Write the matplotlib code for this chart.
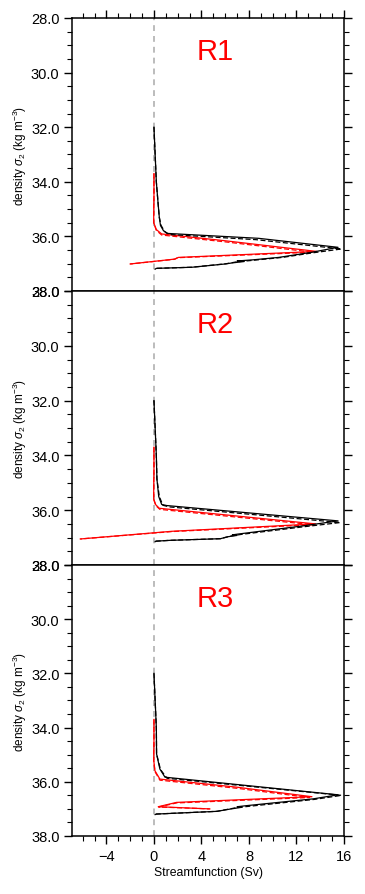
import numpy as np
import matplotlib
matplotlib.use("Agg")
import matplotlib.pyplot as plt
from matplotlib.ticker import MultipleLocator, FormatStrFormatter

plt.rcParams['font.family'] = ['Liberation Sans', 'DejaVu Sans']
plt.rcParams['mathtext.fontset'] = 'custom'
plt.rcParams['mathtext.rm'] = 'Liberation Sans'
plt.rcParams['mathtext.it'] = 'Liberation Sans:italic'

# ---------------- data (density sigma2, streamfunction Sv) ----------------
panel_names = ["R1", "R2", "R3"]

# R1
r1_black_dens = [32.0, 33.0, 34.0, 34.8, 35.3, 35.6, 35.79, 35.89, 36.07, 36.40, 36.58,
                 36.77, 36.86, 36.90, 36.92, 36.97, 37.01, 37.13, 37.17, 37.20]
r1_black_sv = [0.0, 0.1, 0.2, 0.35, 0.45, 0.55, 0.8, 1.1, 8.8, 15.5, 13.3,
               10.5, 8.3, 7.0, 7.6, 6.6, 6.0, 3.2, 0.2, 0.1]
r1_blackd_dens = [32.0, 33.0, 34.0, 34.8, 35.3, 35.6, 35.82, 35.93, 36.12, 36.46, 36.6,
                  36.77, 36.89, 36.93, 37.0, 37.13, 37.17, 37.20]
r1_blackd_sv = [0.0, 0.1, 0.2, 0.35, 0.45, 0.6, 0.9, 1.3, 8.6, 15.8, 13.4,
                10.8, 8.0, 7.0, 6.1, 3.2, 0.2, 0.1]
r1_red_dens = [33.7, 34.5, 35.2, 35.5, 35.75, 35.91, 36.16, 36.55, 36.77, 36.83, 37.01]
r1_red_sv = [0.0, 0.0, -0.02, -0.02, 0.2, 0.65, 6.0, 13.7, 2.05, 1.77, -2.0]
r1_redd_dens = [33.7, 34.5, 35.2, 35.5, 35.78, 35.95, 36.2, 36.58, 36.78, 36.84, 37.01]
r1_redd_sv = [0.0, 0.0, -0.02, -0.02, 0.2, 0.65, 6.0, 13.4, 2.0, 1.7, -2.0]

# R2
r2_black_dens = [32.0, 33.0, 34.0, 34.86, 35.5, 35.79, 35.83, 36.39, 36.57, 36.87,
                 36.90, 36.92, 36.97, 37.04, 37.10, 37.13, 37.15]
r2_black_sv = [0.0, 0.1, 0.2, 0.25, 0.4, 0.65, 1.07, 15.5, 12.6, 7.1,
               6.6, 7.0, 6.2, 5.6, 1.35, 0.17, 0.1]
r2_blackd_dens = [32.0, 33.0, 34.0, 34.86, 35.5, 35.82, 35.88, 36.45, 36.6, 36.88,
                  36.94, 37.04, 37.10, 37.13, 37.15]
r2_blackd_sv = [0.0, 0.1, 0.2, 0.25, 0.45, 0.75, 1.3, 15.7, 12.7, 7.4,
                6.5, 5.6, 1.35, 0.17, 0.1]
r2_red_dens = [33.7, 34.5, 35.2, 35.6, 35.8, 35.93, 36.2, 36.5, 36.77, 37.05]
r2_red_sv = [0.0, 0.0, -0.02, -0.02, 0.15, 0.45, 6.7, 13.6, 1.5, -6.2]
r2_redd_dens = [33.7, 34.5, 35.2, 35.6, 35.83, 35.97, 36.24, 36.53, 36.78, 37.05]
r2_redd_sv = [0.0, 0.0, -0.02, -0.02, 0.15, 0.5, 6.7, 13.4, 1.5, -6.2]

# R3
r3_black_dens = [32.0, 33.0, 34.0, 34.97, 35.53, 35.83, 36.48, 36.63, 36.88, 36.92,
                 36.94, 37.0, 37.09, 37.19, 37.21]
r3_black_sv = [0.0, 0.1, 0.2, 0.22, 0.5, 0.93, 15.5, 13.4, 7.8, 7.0,
               7.4, 6.5, 5.3, 0.2, 0.1]
r3_blackd_dens = [32.0, 33.0, 34.0, 34.97, 35.55, 35.87, 36.5, 36.65, 36.9, 36.95,
                  37.09, 37.19, 37.21]
r3_blackd_sv = [0.0, 0.1, 0.2, 0.22, 0.55, 1.1, 15.8, 13.5, 8.1, 7.0,
                5.3, 0.2, 0.1]
r3_red_dens = [33.7, 34.5, 35.2, 35.59, 35.9, 36.2, 36.55, 36.76, 36.92, 37.0]
r3_red_sv = [0.0, 0.0, -0.02, 0.08, 0.5, 7.0, 13.3, 1.9, 0.36, 4.7]
r3_redd_dens = [33.7, 34.5, 35.2, 35.62, 35.94, 36.24, 36.58, 36.78, 36.93, 37.0]
r3_redd_sv = [0.0, 0.0, -0.02, 0.08, 0.5, 7.0, 13.1, 1.9, 0.4, 4.7]

black_dens = [r1_black_dens, r2_black_dens, r3_black_dens]
black_sv = [r1_black_sv, r2_black_sv, r3_black_sv]
blackd_dens = [r1_blackd_dens, r2_blackd_dens, r3_blackd_dens]
blackd_sv = [r1_blackd_sv, r2_blackd_sv, r3_blackd_sv]
red_dens = [r1_red_dens, r2_red_dens, r3_red_dens]
red_sv = [r1_red_sv, r2_red_sv, r3_red_sv]
redd_dens = [r1_redd_dens, r2_redd_dens, r3_redd_dens]
redd_sv = [r1_redd_sv, r2_redd_sv, r3_redd_sv]

# ---------------- figure ----------------
fig = plt.figure(figsize=(3.65, 8.95), dpi=100)

left = 72 / 365
width = (344 - 72) / 365
panel_px = [(19, 292), (292, 566), (566, 837)]

for i in range(3):
    top_px, bot_px = panel_px[i]
    ax = fig.add_axes([left, 1 - bot_px / 895, width, (bot_px - top_px) / 895])

    # zero line
    ax.axvline(0, color='#b0b0b0', linestyle=(0, (3.5, 3)), linewidth=1.2, zorder=1)

    ax.plot(red_sv[i], red_dens[i], color='red', linewidth=0.9, zorder=3)
    ax.plot(redd_sv[i], redd_dens[i], color='red', linewidth=0.9,
            linestyle=(0, (4, 2)), zorder=3)
    ax.plot(black_sv[i], black_dens[i], color='black', linewidth=0.9, zorder=4)
    ax.plot(blackd_sv[i], blackd_dens[i], color='black', linewidth=0.9,
            linestyle=(0, (4, 2)), zorder=4)

    ax.set_xlim(-6.9, 16)
    ax.set_ylim(38, 28)

    ax.yaxis.set_major_locator(MultipleLocator(2))
    ax.yaxis.set_minor_locator(MultipleLocator(0.5))
    ax.yaxis.set_major_formatter(FormatStrFormatter('%.1f'))
    ax.xaxis.set_major_locator(MultipleLocator(4))
    ax.xaxis.set_minor_locator(MultipleLocator(1))

    ax.tick_params(axis='y', which='both', direction='out', left=True, right=True,
                   labelsize=10.5, pad=3)
    ax.tick_params(axis='y', which='major', length=6, width=1)
    ax.tick_params(axis='y', which='minor', length=3.5, width=0.8)

    if i == 0:
        ax.tick_params(axis='x', which='both', direction='out', top=True, bottom=False,
                       labeltop=False, labelbottom=False)
    elif i == 2:
        ax.tick_params(axis='x', which='both', direction='out', top=False, bottom=True,
                       labelbottom=True, labelsize=10.5)
        ax.set_xlabel("Streamfunction (Sv)", fontsize=8.8, labelpad=2)
    else:
        ax.tick_params(axis='x', which='both', top=False, bottom=False,
                       labelbottom=False)
    ax.tick_params(axis='x', which='major', length=6, width=1)
    ax.tick_params(axis='x', which='minor', length=3.5, width=0.8)

    for sp in ax.spines.values():
        sp.set_linewidth(1.1)

    ax.set_ylabel(r"density $\sigma_2$ (kg m$^{-3}$)", fontsize=8.5, labelpad=1)

    ax.text(0.525, 0.88, panel_names[i], transform=ax.transAxes, color='red',
            fontsize=21, ha='center', va='center')

plt.savefig("out.png", dpi=100)
